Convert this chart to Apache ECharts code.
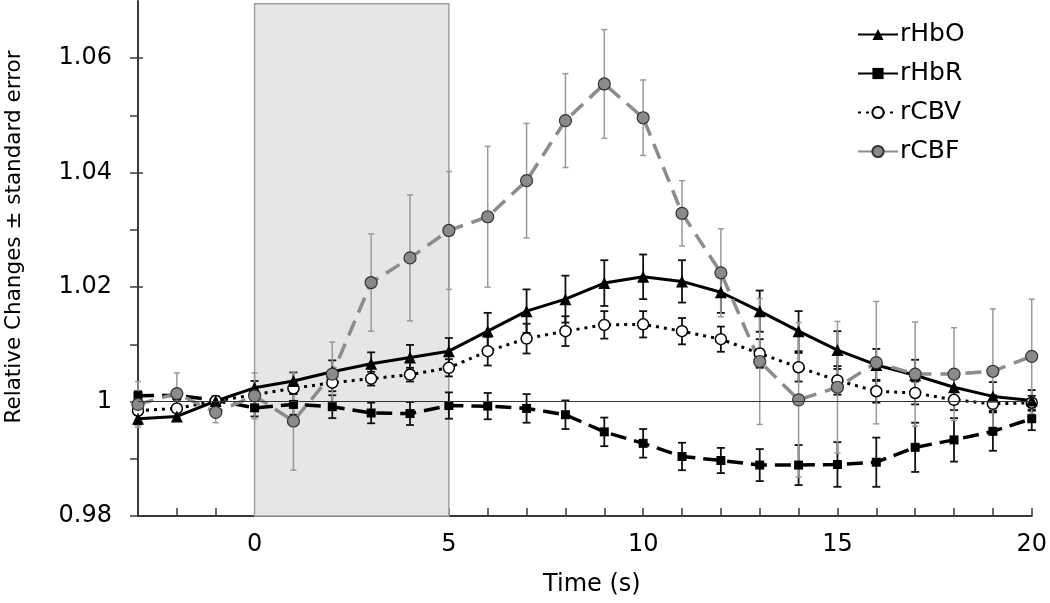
<!DOCTYPE html>
<html>
<head>
<meta charset="utf-8">
<script src="https://cdn.jsdelivr.net/npm/echarts@6/dist/echarts.min.js"></script>
<style>
html,body{margin:0;padding:0;background:#fff;}
#chart{width:1050px;height:603px;}
</style>
</head>
<body>
<div id="chart"></div>
<script>
// ---- data ----
const times = [-3,-2,-1,0,1,2,3,4,5,6,7,8,9,10,11,12,13,14,15,16,17,18,19,20];

const rHbO    = [0.9970,0.9974,1.0001,1.0024,1.0036,1.0052,1.0066,1.0077,1.0088,1.0123,1.0158,1.0179,1.0207,1.0218,1.0210,1.0191,1.0158,1.0123,1.0090,1.0064,1.0046,1.0025,1.0009,1.0002];
const rHbOErr = [0.0010,0.0008,0.0008,0.0012,0.0015,0.0020,0.0020,0.0022,0.0023,0.0032,0.0038,0.0041,0.0040,0.0039,0.0037,0.0036,0.0036,0.0035,0.0033,0.0028,0.0027,0.0027,0.0025,0.0018];

const rHbR    = [1.0010,1.0011,1.0002,0.9989,0.9995,0.9991,0.9980,0.9979,0.9993,0.9992,0.9988,0.9977,0.9947,0.9927,0.9904,0.9897,0.9889,0.9889,0.9890,0.9894,0.9920,0.9933,0.9948,0.9970];
const rHbRErr = [0.0008,0.0008,0.0006,0.0015,0.0018,0.0020,0.0018,0.0020,0.0023,0.0023,0.0025,0.0025,0.0025,0.0025,0.0024,0.0022,0.0028,0.0035,0.0039,0.0043,0.0043,0.0038,0.0034,0.0020];

const rCBV    = [0.9984,0.9988,1.0001,1.0012,1.0023,1.0033,1.0040,1.0047,1.0059,1.0088,1.0110,1.0123,1.0134,1.0135,1.0123,1.0109,1.0084,1.0060,1.0037,1.0018,1.0015,1.0003,0.9996,0.9998];
const rCBVErr = [0.0006,0.0006,0.0005,0.0008,0.0010,0.0015,0.0012,0.0012,0.0015,0.0025,0.0026,0.0026,0.0024,0.0023,0.0023,0.0022,0.0025,0.0025,0.0025,0.0020,0.0020,0.0018,0.0015,0.0012];

const rCBF    = [0.9995,1.0014,0.9981,1.0010,0.9966,1.0048,1.0208,1.0251,1.0299,1.0323,1.0386,1.0491,1.0555,1.0496,1.0329,1.0225,1.0070,1.0003,1.0025,1.0068,1.0048,1.0048,1.0053,1.0079];
const rCBFErr = [0.0040,0.0036,0.0018,0.0040,0.0086,0.0056,0.0085,0.0110,0.0103,0.0123,0.0100,0.0082,0.0095,0.0066,0.0057,0.0077,0.0110,0.0135,0.0115,0.0107,0.0091,0.0081,0.0109,0.0100];

const seriesNames = ['rHbO','rHbR','rCBV','rCBF'];
const xTickLabels = [0,5,10,15,20];
const yTickValues = [0.98,0.99,1.00,1.01,1.02,1.03,1.04,1.05,1.06];
const yTickLabels = [0.98,1.00,1.02,1.04,1.06];
const stimulusWindow = [0,5];
const baseline = 1;

// ---- chart ----
const FONT = '"DejaVu Sans", sans-serif';
const chart = echarts.init(document.getElementById('chart'), null, {renderer:'canvas'});

function pairs(vals){ return times.map((t,i)=>[t, vals[i]]); }
function errData(vals, errs){ return times.map((t,i)=>[t, vals[i], errs[i]]); }
function errSeries(vals, errs, color, width, cap){
  return {
    type:'custom', silent:true, z:1,
    data: errData(vals, errs),
    encode:{x:0,y:1},
    renderItem: function(params, api){
      const x = api.value(0), y = api.value(1), e = api.value(2);
      const p1 = api.coord([x, y+e]);
      const p2 = api.coord([x, y-e]);
      const st = {stroke:color, lineWidth:width};
      return {type:'group', children:[
        {type:'line', shape:{x1:p1[0],y1:p1[1],x2:p2[0],y2:p2[1]}, style:st},
        {type:'line', shape:{x1:p1[0]-cap,y1:p1[1],x2:p1[0]+cap,y2:p1[1]}, style:st},
        {type:'line', shape:{x1:p2[0]-cap,y1:p2[1],x2:p2[0]+cap,y2:p2[1]}, style:st}
      ]};
    }
  };
}

const option = {
  animation:false,
  backgroundColor:'#ffffff',
  grid:{left:138, right:16, top:1, bottom:87, containLabel:false},
  legend:{
    orient:'vertical', left:852, top:17,
    itemWidth:40, itemHeight:14, itemGap:14,
    data: seriesNames,
    textStyle:{fontFamily:FONT, fontSize:25, color:'#000', padding:[0,0,0,-3]},
    inactiveColor:'#000'
  },
  xAxis:{
    type:'value', min:-3, max:20, interval:1,
    name:'Time (s)', nameLocation:'middle', nameGap:57,
    nameTextStyle:{fontFamily:FONT, fontSize:24, color:'#000', padding:[0,0,0,14]},
    axisLine:{show:true, onZero:false, lineStyle:{color:'#3a3a3a', width:2}},
    axisTick:{show:true, inside:true, length:8, lineStyle:{color:'#3a3a3a', width:1.5}},
    axisLabel:{customValues:xTickLabels, fontFamily:FONT, fontSize:24, color:'#000', margin:17},
    splitLine:{show:false}
  },
  yAxis:[{
    type:'value', min:0.98, max:1.07,
    axisLine:{show:true, onZero:false, lineStyle:{color:'#3a3a3a', width:2}},
    axisTick:{show:true, length:8, customValues:yTickValues, lineStyle:{color:'#3a3a3a', width:1.5}},
    axisLabel:{customValues:yTickLabels, fontFamily:FONT, fontSize:24, color:'#000', margin:26,
      formatter:function(v){ return Math.abs(v-1)<1e-9 ? '1' : v.toFixed(2); }},
    splitLine:{show:false}
  },{
    type:'value', min:0.98, max:1.07, position:'left',
    axisLine:{show:false, onZero:false},
    axisTick:{show:true, inside:true, length:5, customValues:yTickLabels, lineStyle:{color:'#3a3a3a', width:1.5}},
    axisLabel:{show:false},
    splitLine:{show:false}
  }],
  graphic:[{
    type:'text', x:14, y:237, rotation:Math.PI/2,
    style:{text:'Relative Changes ± standard error', font:'21.5px "DejaVu Sans", sans-serif',
      fill:'#000', align:'center', verticalAlign:'middle'}
  }],
  series:[
    {
      name:'__background', type:'line', data:[], z:0, silent:true,
      markArea:{silent:true, itemStyle:{color:'#e6e6e6', borderColor:'#a0a0a0', borderWidth:1.5},
        data:[[{xAxis:stimulusWindow[0], yAxis:1.0695},{xAxis:stimulusWindow[1], yAxis:0.98}]]},
      markLine:{silent:true, symbol:['none','none'], label:{show:false},
        lineStyle:{color:'#333', width:1, type:'solid'},
        data:[{yAxis:baseline}]}
    },
    errSeries(rHbR, rHbRErr, '#111', 1.8, 4),
    errSeries(rCBV, rCBVErr, '#111', 1.8, 4),
    errSeries(rHbO, rHbOErr, '#111', 1.8, 4),
    errSeries(rCBF, rCBFErr, '#9a9a9a', 1.5, 3),
    {
      name:'rHbR', type:'line', data:pairs(rHbR), z:3,
      symbol:'rect', symbolSize:9,
      lineStyle:{color:'#000', width:3.5, type:[16,8]},
      itemStyle:{color:'#000', borderColor:'#000', borderWidth:0}
    },
    {
      name:'rCBV', type:'line', data:pairs(rCBV), z:3,
      symbol:'circle', symbolSize:11,
      lineStyle:{color:'#000', width:3, type:[3,5]},
      itemStyle:{color:'#fff', borderColor:'#000', borderWidth:1.5}
    },
    {
      name:'rHbO', type:'line', data:pairs(rHbO), z:3,
      symbol:'triangle', symbolSize:12,
      lineStyle:{color:'#000', width:3, type:'solid'},
      itemStyle:{color:'#000', borderColor:'#000', borderWidth:0}
    },
    {
      name:'rCBF', type:'line', data:pairs(rCBF), z:3,
      symbol:'circle', symbolSize:12,
      lineStyle:{color:'#8c8c8c', width:3.5, type:[16,9]},
      itemStyle:{color:'#8a8a8a', borderColor:'#333', borderWidth:1.2}
    }
  ]
};
chart.setOption(option);
</script>
</body>
</html>
